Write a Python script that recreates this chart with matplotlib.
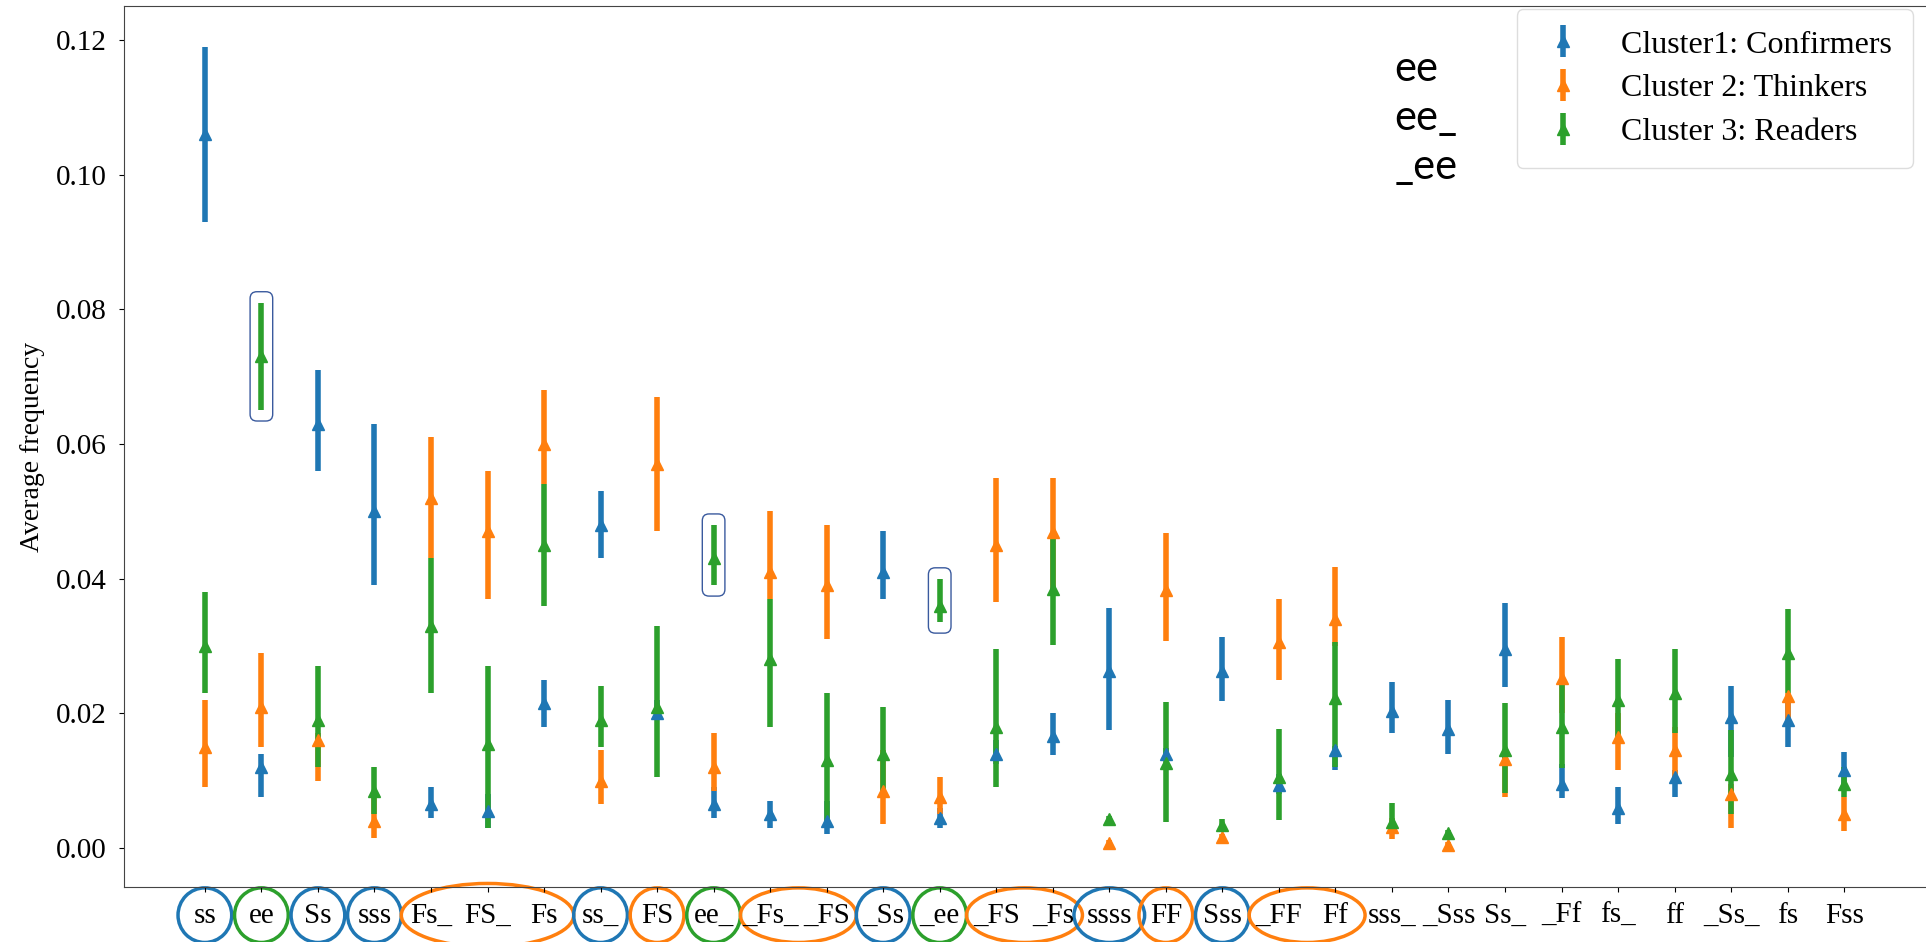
import numpy as np
import matplotlib
matplotlib.use("Agg")
import matplotlib.pyplot as plt
from matplotlib.patches import Ellipse, FancyBboxPatch

# n-gram patterns on the x axis
patterns = ["ss", "ee", "Ss", "sss", "Fs_", "FS_", "Fs", "ss_", "FS", "ee_",
            "_Fs_", "_FS", "_Ss", "_ee", "_FS", "_Fs", "ssss", "FF", "Sss", "_FF",
            "Ff", "sss_", "_Sss", "Ss_", "_Ff", "fs_", "ff", "_Ss_", "fs", "Fss"]

# Cluster 1: Confirmers
c1_mean = [0.106, 0.012, 0.063, 0.050, 0.0065, 0.0055, 0.0215, 0.048, 0.020, 0.0065,
           0.005, 0.004, 0.041, 0.0045, 0.014, 0.0166, 0.0263, 0.014, 0.0263, 0.0093,
           0.0145, 0.0204, 0.0176, 0.0295, 0.0095, 0.006, 0.0105, 0.0195, 0.019, 0.0115]
c1_lo = [0.093, 0.0075, 0.056, 0.039, 0.0045, 0.003, 0.018, 0.043, 0.019, 0.0045,
         0.003, 0.002, 0.037, 0.003, 0.0125, 0.0138, 0.0175, 0.0135, 0.0218, 0.008,
         0.0115, 0.0171, 0.0139, 0.0239, 0.0074, 0.0035, 0.0075, 0.0135, 0.015, 0.009]
c1_hi = [0.119, 0.014, 0.071, 0.063, 0.009, 0.008, 0.025, 0.053, 0.022, 0.009,
         0.007, 0.007, 0.047, 0.006, 0.016, 0.020, 0.0356, 0.0148, 0.0313, 0.011,
         0.0152, 0.0246, 0.0219, 0.0364, 0.0125, 0.009, 0.0115, 0.024, 0.0215, 0.0143]

# Cluster 2: Thinkers
c2_mean = [0.015, 0.021, 0.016, 0.004, 0.052, 0.047, 0.060, 0.010, 0.057, 0.012,
           0.041, 0.039, 0.0085, 0.0075, 0.045, 0.0469, 0.0007, 0.0383, 0.0016, 0.0306,
           0.034, 0.0031, 0.0005, 0.0132, 0.0252, 0.0165, 0.0145, 0.008, 0.0225, 0.005]
c2_lo = [0.009, 0.015, 0.010, 0.0015, 0.043, 0.037, 0.054, 0.0065, 0.047, 0.0085,
         0.037, 0.031, 0.0035, 0.005, 0.0365, 0.038, 0.0003, 0.0307, 0.0012, 0.025,
         0.030, 0.0014, 0.0002, 0.0075, 0.020, 0.0115, 0.0105, 0.003, 0.019, 0.0025]
c2_hi = [0.022, 0.029, 0.017, 0.008, 0.061, 0.056, 0.068, 0.0145, 0.067, 0.017,
         0.050, 0.048, 0.0145, 0.0105, 0.055, 0.0549, 0.0012, 0.0467, 0.002, 0.0369,
         0.0417, 0.0045, 0.0009, 0.0145, 0.0313, 0.020, 0.018, 0.0095, 0.023, 0.0075]

# Cluster 3: Readers
c3_mean = [0.030, 0.073, 0.019, 0.0085, 0.033, 0.0155, 0.045, 0.019, 0.021, 0.043,
           0.028, 0.013, 0.014, 0.036, 0.018, 0.0384, 0.0043, 0.0126, 0.0034, 0.0105,
           0.0222, 0.0039, 0.0022, 0.0145, 0.0179, 0.022, 0.023, 0.011, 0.029, 0.0095]
c3_lo = [0.023, 0.065, 0.012, 0.005, 0.023, 0.003, 0.036, 0.015, 0.0105, 0.039,
         0.018, 0.004, 0.008, 0.0335, 0.009, 0.0301, 0.0038, 0.0038, 0.0025, 0.0041,
         0.012, 0.0025, 0.0018, 0.0081, 0.0118, 0.016, 0.017, 0.005, 0.023, 0.0075]
c3_hi = [0.038, 0.081, 0.027, 0.012, 0.043, 0.027, 0.054, 0.024, 0.033, 0.048,
         0.037, 0.023, 0.021, 0.040, 0.0295, 0.0469, 0.0048, 0.0216, 0.0043, 0.0176,
         0.0306, 0.0066, 0.0027, 0.0215, 0.0252, 0.028, 0.0295, 0.0175, 0.0355, 0.012]

labels = ["Cluster1: Confirmers", "Cluster 2: Thinkers", "Cluster 3: Readers"]
colors = ["#1f77b4", "#ff7f0e", "#2ca02c"]

# highlighted patterns: (first index, last index, colour)
groups = [(0, 0, 0), (1, 1, 2), (2, 2, 0), (3, 3, 0), (4, 6, 1), (7, 7, 0),
          (8, 8, 1), (9, 9, 2), (10, 11, 1), (12, 12, 0), (13, 13, 2), (14, 15, 1),
          (16, 16, 0), (17, 17, 1), (18, 18, 0), (19, 20, 1)]
boxed = [1, 9, 13]

plt.rcParams["font.family"] = ["Liberation Serif", "DejaVu Serif"]

fig = plt.figure(figsize=(19.26, 9.42), dpi=100)
# axes run a little past the right edge of the figure
ax = fig.add_axes([0.0644, 0.0584, 0.938, 0.935])

x = np.arange(len(patterns))
series = [(c1_mean, c1_lo, c1_hi), (c2_mean, c2_lo, c2_hi), (c3_mean, c3_lo, c3_hi)]
for (m, lo, hi), lab, col in zip(series, labels, colors):
    m, lo, hi = np.array(m), np.array(lo), np.array(hi)
    ax.errorbar(x, m, yerr=[m - lo, hi - m], fmt="^", color=col, ms=8.5,
                elinewidth=4.0, capsize=0, label=lab)

ax.set_xlim(-1.43, 30.53)
ax.set_ylim(-0.0058, 0.125)
ax.set_yticks([0.0, 0.02, 0.04, 0.06, 0.08, 0.10, 0.12])
ax.set_yticklabels(["0.00", "0.02", "0.04", "0.06", "0.08", "0.10", "0.12"])
ax.set_xticks(x)
ax.set_xticklabels(patterns)
ax.tick_params(axis="both", labelsize=21)
ax.tick_params(axis="x", pad=8)
ax.tick_params(axis="y", pad=9)
ax.set_ylabel("Average frequency", fontsize=20, labelpad=8)
for s in ax.spines.values():
    s.set_color("#444444")

# frames around the "ee" bars of cluster 3
asp = 0.0084
for i in boxed:
    lo, hi = c3_lo[i] - 0.0016, c3_hi[i] + 0.0016
    ax.add_patch(FancyBboxPatch((i - 0.2, lo), 0.4, hi - lo,
                                boxstyle="round,pad=0,rounding_size=0.12",
                                mutation_aspect=asp, fill=False,
                                edgecolor="#3a5a9e", lw=1.0, zorder=5))

# rings around tick labels
trans = ax.get_xaxis_transform()
for a, b, ci in groups:
    n = b - a + 1
    w = 0.95 if n == 1 else n + 0.05
    if patterns[a] == "ssss":
        w = 1.25
    h = 0.062 if n < 3 else 0.072
    ax.add_patch(Ellipse(((a + b) / 2, -0.032), w, h, transform=trans,
                         fill=False, edgecolor=colors[ci], lw=2.5, clip_on=False))

ax.legend(loc="upper right", bbox_to_anchor=(0.993, 0.99),
          bbox_transform=fig.transFigure, borderaxespad=0, fontsize=23,
          handlelength=1.6, handletextpad=1.0, borderpad=0.65,
          labelspacing=0.45, framealpha=1, edgecolor="#dddddd")

for k, t in enumerate(["ee", "ee_", "_ee"]):
    fig.text(0.724, 0.914 - k * 0.052, t, fontsize=30, family="Lato",
             va="baseline", ha="left")

fig.savefig("out.png", dpi=100)
